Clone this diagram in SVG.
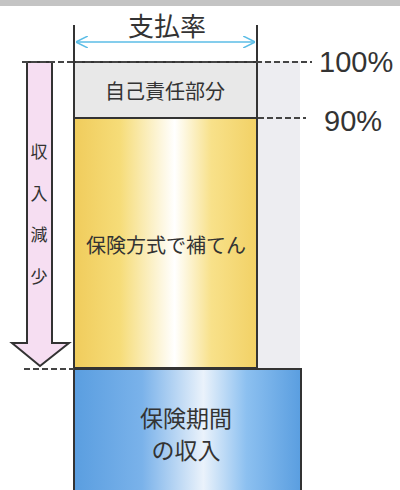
<svg xmlns="http://www.w3.org/2000/svg" width="400" height="490" viewBox="0 0 400 490">
<style>
text{font-family:"Noto Sans CJK JP","Noto Sans",sans-serif;fill:#333}
.box{stroke:#333;stroke-width:2}
.dash{stroke:#444;stroke-width:2;stroke-dasharray:6 3;fill:none}
.pct{font-size:29px;font-family:"Liberation Sans","Noto Sans",sans-serif}
.v{font-size:17px;text-anchor:middle}
</style>
<defs>
<linearGradient id="gold" x1="0" x2="1" y1="0" y2="0">
<stop offset="0" stop-color="#f0cc5c"/>
<stop offset="0.25" stop-color="#f6dc78"/>
<stop offset="0.55" stop-color="#ffffff"/>
<stop offset="0.75" stop-color="#f8e18a"/>
<stop offset="1" stop-color="#f2d165"/>
</linearGradient>
<linearGradient id="blue" x1="0" x2="1" y1="0" y2="0">
<stop offset="0" stop-color="#5a9ee0"/>
<stop offset="0.3" stop-color="#7ab2ea"/>
<stop offset="0.57" stop-color="#eaf2fb"/>
<stop offset="0.76" stop-color="#8cc0f0"/>
<stop offset="1" stop-color="#5a9ee0"/>
</linearGradient>
<marker id="chev" viewBox="0 0 10 10" refX="9" refY="5" markerWidth="12" markerHeight="12" markerUnits="userSpaceOnUse" orient="auto-start-reverse">
<path d="M0,0 L10,5 L0,10" fill="none" stroke="#5bbde6" stroke-width="1.2"/>
</marker>
</defs>
<rect x="0" y="0" width="400" height="6" fill="#c4c4c4"/>
<rect x="258" y="61" width="42" height="307" fill="#ededf1"/>
<g id="grey-box">
<rect class="box" x="74" y="62" width="183" height="56" fill="#e8e8e8"/>
<text x="165" y="99" font-size="20" text-anchor="middle">自己責任部分</text>
</g>
<g id="gold-box">
<rect class="box" x="74" y="118" width="183" height="250" fill="url(#gold)"/>
<text x="166" y="253" font-size="20" text-anchor="middle">保険方式で補てん</text>
</g>
<g id="blue-box">
<rect class="box" x="74" y="369" width="227" height="130" fill="url(#blue)"/>
<text x="186" y="427" font-size="23" text-anchor="middle">保険期間</text>
<text x="186" y="459" font-size="23" text-anchor="middle">の収入</text>
</g>
<g id="decrease-arrow">
<path d="M27,62 L52,62 L52,343 L69,343 L40,366 L12,343 L27,343 Z" fill="#f6def2" stroke="#333" stroke-width="2" stroke-linejoin="miter"/>
<text class="v" x="39" y="158">収</text>
<text class="v" x="39" y="200">入</text>
<text class="v" x="39" y="241">減</text>
<text class="v" x="39" y="283">少</text>
</g>
<g id="rate">
<line x1="74" y1="25" x2="74" y2="62" stroke="#333" stroke-width="2"/>
<line x1="257" y1="25" x2="257" y2="62" stroke="#333" stroke-width="2"/>
<text x="167" y="36" font-size="26" text-anchor="middle">支払率</text>
</g>
<g id="connectors">
<line x1="77" y1="42" x2="254" y2="42" stroke="#5bbde6" stroke-width="1.5" marker-start="url(#chev)" marker-end="url(#chev)"/>
<line class="dash" x1="22" y1="62" x2="312" y2="62"/>
<line class="dash" x1="258" y1="118" x2="306" y2="118"/>
<line class="dash" x1="24" y1="369" x2="74" y2="369"/>
</g>
<g id="labels">
<text class="pct" x="319" y="72">100%</text>
<text class="pct" x="324" y="131">90%</text>
</g>
</svg>
